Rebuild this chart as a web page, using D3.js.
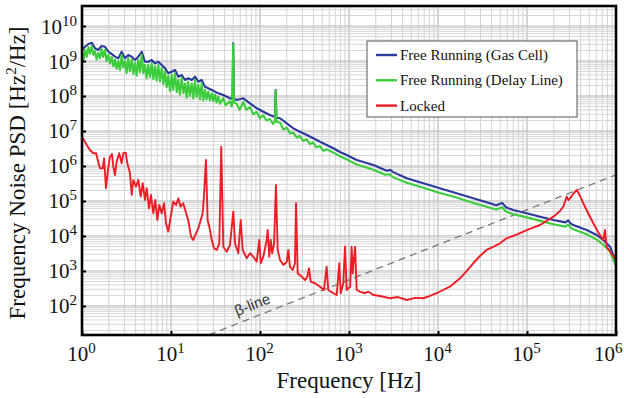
<!DOCTYPE html>
<html>
<head>
<meta charset="utf-8">
<script src="https://cdn.jsdelivr.net/npm/d3@7"></script>
<style>
  html, body { margin: 0; padding: 0; background: #fff; }
  svg { display: block; font-family: "Liberation Serif", "Times New Roman", Times, "DejaVu Serif", serif; }
</style>
</head>
<body>
<svg id="chart" width="624" height="398"></svg>
<script>
// Frequency noise PSD: [frequency Hz, PSD Hz^2/Hz]
const gasCell = [
  [1, 2.06e9], [1.08, 2.56e9], [1.18, 3.06e9], [1.29, 3.33e9], [1.40, 2.31e9], [1.52, 2.06e9],
  [1.66, 2.68e9], [1.81, 2.56e9], [1.98, 1.84e9], [2.16, 1.58e9], [2.35, 1.33e9], [2.56, 1.19e9],
  [2.79, 1.84e9], [3.04, 1.19e9], [3.31, 1.48e9], [3.62, 1.33e9], [3.94, 1.07e9], [4.29, 1.33e9],
  [4.69, 1.84e9], [5.10, 9.55e8], [5.56, 9.55e8], [6.07, 1.07e9], [6.61, 8.59e8], [7.20, 9.55e8],
  [7.87, 7.69e8], [8.57, 6.18e8], [9.33, 4.46e8], [10.2, 4.94e8], [11.1, 5.53e8], [12.1, 3.56e8],
  [13.2, 3.98e8], [14.4, 2.86e8], [15.6, 3.21e8], [17.1, 2.86e8], [18.6, 3.56e8], [20.3, 2.56e8],
  [22.1, 2.86e8], [24.1, 1.84e8], [26.2, 1.66e8], [28.7, 1.48e8], [31.2, 1.33e8], [34.0, 1.19e8],
  [38.7, 1.07e8], [46.0, 8.59e7], [49, 8.4e7], [50, 3.21e9], [51, 8.3e7], [54.7, 7.69e7],
  [64.9, 8.59e7], [77.2, 6.18e7], [91.8, 4.46e7], [109, 3.56e7], [129, 2.86e7], [147, 2.5e7],
  [150, 1.48e8], [153, 2.4e7], [168, 2.31e7], [200, 1.66e7], [237, 1.19e7], [281, 9.55e6],
  [335, 7.69e6], [397, 6.18e6], [472, 4.94e6], [561, 3.98e6], [667, 3.21e6], [792, 2.51e6],
  [942, 2.06e6], [1220, 1.48e6], [1880, 1.07e6], [2540, 7.7e5], [2700, 7.3e5], [2900, 7.8e5],
  [3100, 6.8e5], [4450, 4.46e5], [6840, 3.21e5], [10500, 2.31e5], [16200, 1.66e5], [24900, 1.19e5],
  [38400, 8.59e4], [45000, 7.6e4], [52700, 8.8e4], [58000, 6.6e4], [70100, 5.53e4], [99300, 4.46e4],
  [140000, 3.56e4], [198000, 2.86e4], [270000, 2.45e4], [291000, 2.8e4], [310000, 2.25e4],
  [331000, 2.06e4], [469000, 1.48e4], [607000, 1.07e4], [720000, 7.69e3], [857000, 4.94e3],
  [1000000, 1.84e3]
];

const delayLine = [
  [1.00, 1.7e9], [1.04, 1.1e9], [1.08, 2.1e9], [1.13, 1.3e9], [1.18, 2.5e9], [1.23, 1.6e9],
  [1.29, 2.7e9], [1.34, 1.5e9], [1.40, 1.9e9], [1.46, 1.1e9], [1.52, 1.7e9], [1.59, 1.2e9],
  [1.66, 2.2e9], [1.73, 1.3e9], [1.81, 2.1e9], [1.89, 1.0e9], [1.98, 1.5e9], [2.07, 8.5e8],
  [2.16, 1.3e9], [2.25, 7.0e8], [2.35, 1.1e9], [2.45, 6.0e8], [2.56, 9.8e8], [2.67, 5.5e8],
  [2.79, 1.5e9], [2.91, 6.5e8], [3.04, 9.8e8], [3.17, 4.5e8], [3.31, 1.2e9], [3.46, 5.0e8],
  [3.62, 1.1e9], [3.78, 4.2e8], [3.94, 8.8e8], [4.11, 3.8e8], [4.29, 1.1e9], [4.48, 4.8e8],
  [4.69, 1.5e9], [4.89, 4.5e8], [5.10, 7.8e8], [5.32, 3.2e8], [5.56, 7.8e8], [5.80, 3.5e8],
  [6.07, 8.8e8], [6.33, 3.0e8], [6.61, 7.0e8], [6.90, 2.8e8], [7.20, 7.8e8], [7.52, 2.6e8],
  [7.87, 6.3e8], [8.21, 2.2e8], [8.57, 5.1e8], [8.94, 1.8e8], [9.33, 3.7e8], [9.74, 1.4e8],
  [10.2, 4.0e8], [10.6, 1.5e8], [11.1, 4.5e8], [11.6, 1.3e8], [12.1, 2.9e8], [12.6, 1.1e8],
  [13.2, 3.3e8], [13.8, 1.2e8], [14.4, 2.3e8], [15.0, 9.0e7], [15.6, 2.6e8], [16.3, 1.0e8],
  [17.1, 2.3e8], [17.8, 8.5e7], [18.6, 2.9e8], [19.4, 9.5e7], [20.3, 2.1e8], [21.2, 8.0e7],
  [22.1, 2.3e8], [23.1, 7.5e7], [24.1, 1.5e8], [25.1, 8.0e7], [26.2, 1.35e8], [27.4, 7.5e7],
  [28.7, 1.2e8], [29.9, 7.0e7], [31.2, 1.1e8], [32.6, 6.5e7], [34.0, 9.7e7], [35.5, 6.0e7],
  [38.7, 8.7e7], [41, 5.5e7], [46.0, 7.0e7], [48, 5.0e7], [49, 6.8e7], [50, 3.0e9], [51, 6.5e7],
  [54.7, 6.0e7], [59, 4.0e7], [64.9, 6.8e7], [70, 4.0e7], [77.2, 4.8e7], [84, 3.0e7],
  [91.8, 3.5e7], [100, 2.3e7], [109, 2.8e7], [118, 2.0e7], [129, 2.2e7], [140, 1.6e7],
  [147, 1.9e7], [150, 1.4e8], [153, 1.8e7], [168, 1.75e7], [183, 1.1e7], [200, 1.25e7],
  [218, 8.5e6], [237, 9.0e6], [258, 6.5e6], [281, 7.2e6], [305, 5.2e6], [335, 5.8e6],
  [365, 4.2e6], [397, 4.7e6], [430, 3.4e6], [472, 3.7e6], [515, 2.7e6], [561, 3.0e6],
  [667, 2.4e6], [792, 1.9e6], [942, 1.55e6], [1220, 1.1e6], [1880, 7.8e5], [2540, 5.6e5],
  [2900, 5.8e5], [3100, 4.8e5], [4450, 3.3e5], [6840, 2.4e5], [10500, 1.7e5], [16200, 1.25e5],
  [24900, 8.8e4], [38400, 6.4e4], [45000, 5.7e4], [52700, 6.6e4], [58000, 5.0e4], [70100, 4.2e4],
  [99300, 3.4e4], [140000, 2.7e4], [198000, 2.15e4], [270000, 1.85e4], [291000, 2.1e4],
  [310000, 1.7e4], [331000, 1.55e4], [469000, 1.12e4], [607000, 7.9e3], [720000, 5.6e3],
  [857000, 3.6e3], [1000000, 1.35e3]
];

const locked = [
  [1.00, 6.87e6], [1.05, 5.53e6], [1.13, 3.98e6], [1.23, 2.86e6], [1.34, 2.31e6], [1.44, 2.31e6],
  [1.52, 1.33e6], [1.59, 8.59e5], [1.71, 8.59e5], [1.77, 1.66e6], [1.86, 2.31e5], [1.96, 7.69e5],
  [2.06, 1.84e6], [2.17, 2.20e6], [2.25, 9.55e5], [2.35, 5.53e5], [2.45, 1.33e6], [2.62, 2.31e6],
  [2.79, 1.19e6], [2.91, 2.31e6], [3.10, 2.40e6], [3.23, 1.19e6], [3.46, 6.18e5], [3.62, 1.48e5],
  [3.77, 3.98e5], [4.04, 2.56e5], [4.29, 3.98e5], [4.57, 1.33e5], [4.81, 3.21e5], [5.10, 1.07e5],
  [5.33, 2.31e5], [5.66, 6.18e4], [5.96, 1.48e5], [6.32, 4.46e4], [6.66, 1.07e5], [7.02, 2.86e4],
  [7.39, 7.69e4], [7.87, 4.46e4], [8.35, 8.59e4], [8.79, 2.31e4], [9.33, 1.33e4], [9.93, 3.56e4],
  [10.6, 9.55e4], [11.4, 7.69e4], [12.1, 1.19e5], [12.8, 6.87e4], [13.7, 8.59e4], [14.8, 4.46e4],
  [15.6, 2.86e4], [16.8, 9.55e3], [17.8, 7.69e3], [19.1, 1.19e4], [20.3, 1.66e4], [21.6, 2.86e4],
  [22.7, 4.46e4], [23.5, 1.48e5], [24.7, 1.48e6], [25.8, 2.86e4], [27.4, 1.48e4], [28.7, 7.69e3],
  [30.4, 4.46e3], [32.6, 3.98e3], [34.9, 6.18e3], [36.7, 3.56e6], [38.7, 4.94e3], [42.3, 3.56e3],
  [46.0, 5.53e3], [50.1, 4.94e4], [52.4, 6.18e3], [57.0, 3.21e3], [60.7, 2.86e4], [63.9, 3.98e3],
  [70.9, 2.31e3], [77.2, 3.21e3], [84.1, 2.56e3], [91.8, 1.84e3], [98.2, 7.69e3], [102, 1.66e3],
  [109, 2.56e3], [119, 7.69e3], [122, 1.48e4], [127, 2.56e3], [132, 7.69e3], [137, 3.21e3],
  [144, 6.18e3], [151, 2.86e5], [158, 3.98e3], [168, 2.06e3], [183, 1.48e3], [200, 1.84e3],
  [208, 3.98e3], [217, 1.33e3], [233, 1.07e3], [247, 1.66e3], [254, 8.59e4], [265, 859],
  [294, 687], [321, 553], [340, 687], [355, 1.19e3], [371, 494], [415, 446], [472, 356],
  [523, 286], [561, 1.33e3], [585, 286], [667, 231], [728, 206], [778, 1.66e3], [807, 231],
  [863, 446], [902, 4.94e3], [942, 286], [1030, 356], [1070, 4.94e3], [1100, 859],
  [1170, 4.94e3], [1220, 286], [1330, 256], [1510, 231], [1650, 256], [1880, 206], [2230, 193],
  [2890, 166], [3550, 180], [4450, 148], [5520, 170], [6840, 166], [8130, 193], [9670, 231],
  [11400, 286], [13600, 356], [17700, 618], [20600, 936], [24900, 1.66e3], [29600, 2.68e3],
  [35200, 3.98e3], [41500, 4.85e3], [49700, 6.18e3], [59100, 8.59e3], [75200, 1.07e4],
  [99300, 1.48e4], [140000, 2.06e4], [198000, 3.56e4], [235000, 5.18e4], [256000, 6.87e4],
  [279000, 1.33e5], [293000, 1.07e5], [304000, 1.19e5], [329000, 1.58e5], [362000, 2.06e5],
  [394000, 1.39e5], [429000, 8.59e4], [485000, 4.54e4], [556000, 2.31e4], [628000, 1.30e4],
  [720000, 7.69e3], [752000, 1.48e4], [785000, 4.94e3], [879000, 3.27e3], [1000000, 2.06e3]
];

// beta-separation line, endpoints
const betaLine = [[20, 11.2], [1000000, 5.6e5]];

const seriesNames = ['Free Running (Gas Cell)', 'Free Running (Delay Line)', 'Locked'];
const seriesColors = ['#2a3b9b', '#3ccc3c', '#ee1c25'];
const xTickExps = [0, 1, 2, 3, 4, 5, 6];
const yTickExps = [2, 3, 4, 5, 6, 7, 8, 9, 10];

const svg = d3.select('#chart');
const plot = { left: 82, right: 616, top: 6, bottom: 335 };

const x = d3.scaleLog().domain([1, 1e6]).range([plot.left, plot.right]);
const y = d3.scaleLog().domain([14.8, 3.73e10]).range([plot.bottom, plot.top]);

svg.append('rect').attr('width', 624).attr('height', 398).attr('fill', '#fff');

svg.append('clipPath').attr('id', 'plotClip')
  .append('rect')
  .attr('x', plot.left).attr('y', plot.top)
  .attr('width', plot.right - plot.left).attr('height', plot.bottom - plot.top);

// Grid: every 1..9 x decade
const xGrid = [];
for (let k = 0; k < 6; k++) for (let m = 1; m <= 9; m++) xGrid.push({ v: m * Math.pow(10, k), major: m === 1 });
const yGrid = [];
for (let k = 1; k <= 10; k++) for (let m = 1; m <= 9; m++) {
  const v = m * Math.pow(10, k);
  if (v > y.domain()[0] && v < y.domain()[1]) yGrid.push({ v, major: m === 1 });
}

const grid = svg.append('g');
grid.selectAll('line.gx').data(xGrid).enter().append('line')
  .attr('x1', d => x(d.v)).attr('x2', d => x(d.v))
  .attr('y1', plot.top).attr('y2', plot.bottom)
  .attr('stroke', d => d.major ? '#a9a9a9' : '#d2d2d2')
  .attr('stroke-width', 1);
grid.selectAll('line.gy').data(yGrid).enter().append('line')
  .attr('x1', plot.left).attr('x2', plot.right)
  .attr('y1', d => y(d.v)).attr('y2', d => y(d.v))
  .attr('stroke', d => d.major ? '#b4b4b4' : '#d6d6d6')
  .attr('stroke-width', 1);

// Curves
const line = d3.line().x(d => x(d[0])).y(d => y(d[1]));
const curves = svg.append('g').attr('clip-path', 'url(#plotClip)');

curves.append('path').datum(betaLine)
  .attr('d', line).attr('fill', 'none')
  .attr('stroke', '#777').attr('stroke-width', 1.3).attr('stroke-dasharray', '7,5');

[gasCell, delayLine, locked].forEach((data, i) => {
  curves.append('path').datum(data)
    .attr('d', line).attr('fill', 'none')
    .attr('stroke', seriesColors[i])
    .attr('stroke-width', i === 2 ? 1.9 : 2.1)
    .attr('stroke-linejoin', 'round');
});

// beta-line label along the dashed line
const p0 = [x(betaLine[0][0]), y(betaLine[0][1])];
const p1 = [x(betaLine[1][0]), y(betaLine[1][1])];
const angle = Math.atan2(p1[1] - p0[1], p1[0] - p0[0]) * 180 / Math.PI;
const labelF = 92;
const labelPt = [x(labelF), p0[1] + (x(labelF) - p0[0]) * (p1[1] - p0[1]) / (p1[0] - p0[0])];
svg.append('text')
  .attr('transform', `translate(${labelPt[0]},${labelPt[1]}) rotate(${angle})`)
  .attr('y', -7)
  .attr('text-anchor', 'middle')
  .attr('font-family', '"Liberation Sans", Arial, sans-serif')
  .attr('font-size', 15)
  .attr('fill', '#333')
  .text('β-line');

// Axes: inward ticks, 10^n labels
const xAxis = svg.append('g')
  .attr('transform', `translate(0,${plot.bottom})`)
  .call(d3.axisBottom(x).tickValues(xTickExps.map(e => Math.pow(10, e))).tickSize(-4).tickFormat(''));
const yAxis = svg.append('g')
  .attr('transform', `translate(${plot.left},0)`)
  .call(d3.axisLeft(y).tickValues(yTickExps.map(e => Math.pow(10, e))).tickSize(-4).tickFormat(''));

[xAxis, yAxis].forEach(ax => {
  ax.select('.domain').remove();
  ax.selectAll('.tick line').attr('stroke', '#000').attr('stroke-width', 2);
  ax.selectAll('.tick text').remove();
});

const lastX = Math.pow(10, xTickExps[xTickExps.length - 1]);
xAxis.selectAll('.tick').each(function (d) {
  const isLast = d === lastX;
  const t = d3.select(this).append('text')
    .attr('x', isLast ? 6 : -1)
    .attr('y', 26).attr('text-anchor', isLast ? 'end' : 'middle')
    .attr('font-family', '"Liberation Serif", "DejaVu Serif", serif')
    .attr('font-size', 21).attr('fill', '#111');
  t.append('tspan').text('10');
  t.append('tspan').attr('dy', -8).attr('font-size', 15).text(Math.round(Math.log10(d)));
});

yAxis.selectAll('.tick').each(function (d) {
  const t = d3.select(this).append('text')
    .attr('x', -5).attr('y', 7).attr('text-anchor', 'end')
    .attr('font-family', '"Liberation Serif", "DejaVu Serif", serif')
    .attr('font-size', 21).attr('fill', '#111');
  t.append('tspan').text('10');
  t.append('tspan').attr('dy', -8).attr('font-size', 15).text(Math.round(Math.log10(d)));
});

// Frame
svg.append('rect')
  .attr('x', plot.left).attr('y', plot.top)
  .attr('width', plot.right - plot.left).attr('height', plot.bottom - plot.top)
  .attr('fill', 'none').attr('stroke', '#000').attr('stroke-width', 2.6);

// Axis titles
svg.append('text')
  .attr('x', (plot.left + plot.right) / 2).attr('y', 388)
  .attr('text-anchor', 'middle').attr('font-size', 23).attr('fill', '#111')
  .text('Frequency [Hz]');

const yTitle = svg.append('text')
  .attr('transform', 'translate(25,173) rotate(-90)')
  .attr('text-anchor', 'middle').attr('font-size', 23).attr('fill', '#111');
yTitle.append('tspan').text('Frequency Noise PSD [Hz');
yTitle.append('tspan').attr('dy', -9).attr('font-size', 15).text('2');
yTitle.append('tspan').attr('dy', 9).text('/Hz]');

// Legend
const legend = svg.append('g');
legend.append('rect')
  .attr('x', 367).attr('y', 41).attr('width', 210).attr('height', 76)
  .attr('fill', '#fff').attr('stroke', '#555').attr('stroke-width', 1);
seriesNames.forEach((name, i) => {
  const cy = 55 + i * 25.3;
  legend.append('line')
    .attr('x1', 376).attr('x2', 397).attr('y1', cy).attr('y2', cy)
    .attr('stroke', seriesColors[i]).attr('stroke-width', 2.4);
  legend.append('text')
    .attr('x', 400).attr('y', cy + 5)
    .attr('font-size', 15).attr('fill', '#111')
    .text(name);
});
</script>
</body>
</html>
